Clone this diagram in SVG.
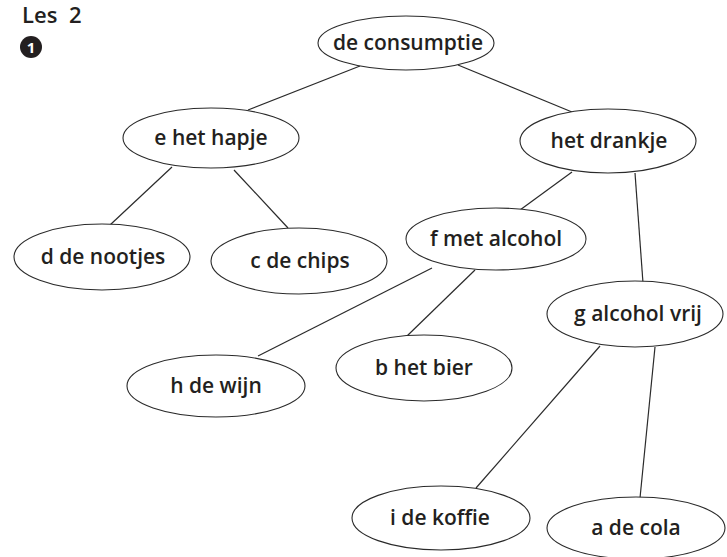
<svg xmlns="http://www.w3.org/2000/svg" width="727" height="557" viewBox="0 0 727 557">
<style>
.n ellipse{fill:#fff;stroke:#2a2a2a;stroke-width:1.1}
.n text{font-family:"Open Sans","DejaVu Sans",sans-serif;font-weight:600;font-size:21px;fill:#231f20;text-anchor:middle}
#connectors line{stroke:#2a2a2a;stroke-width:1.2}
.h{font-family:"Open Sans","DejaVu Sans",sans-serif;font-weight:600;fill:#231f20}
</style>
<rect width="727" height="557" fill="#fff"/>
<text class="h" x="22" y="23" font-size="22" word-spacing="6">Les 2</text>
<g id="badge">
<circle cx="31" cy="47" r="11" fill="#231f20"/>
<text x="31" y="52.5" font-family="Open Sans,DejaVu Sans,sans-serif" font-weight="700" font-size="15" fill="#fff" text-anchor="middle">1</text>
</g>
<g id="connectors">
<line x1="360" y1="66" x2="248" y2="110"/>
<line x1="458" y1="65" x2="572" y2="112"/>
<line x1="172" y1="167" x2="110" y2="225"/>
<line x1="234" y1="170" x2="288" y2="228"/>
<line x1="572" y1="172" x2="520" y2="210"/>
<line x1="635" y1="173" x2="643" y2="283"/>
<line x1="432" y1="268" x2="258" y2="356"/>
<line x1="475" y1="270" x2="407" y2="336"/>
<line x1="600" y1="346" x2="476" y2="488"/>
<line x1="655" y1="347" x2="640" y2="498"/>
</g>
<g id="n-consumptie" class="n"><ellipse cx="406" cy="43" rx="88" ry="27"/><text x="408" y="50">de consumptie</text></g>
<g id="n-hapje" class="n"><ellipse cx="211" cy="138" rx="88" ry="30"/><text x="211" y="145">e het hapje</text></g>
<g id="n-drankje" class="n"><ellipse cx="608" cy="141" rx="88" ry="32"/><text x="609" y="148">het drankje</text></g>
<g id="n-nootjes" class="n"><ellipse cx="102" cy="257" rx="88" ry="33"/><text x="103" y="264">d de nootjes</text></g>
<g id="n-chips" class="n"><ellipse cx="299" cy="261" rx="88" ry="33"/><text x="300" y="268">c de chips</text></g>
<g id="n-metalcohol" class="n"><ellipse cx="496" cy="239" rx="90" ry="31"/><text x="496" y="246">f met alcohol</text></g>
<g id="n-alcoholvrij" class="n"><ellipse cx="635" cy="314" rx="88" ry="33"/><text x="638" y="321">g alcohol vrij</text></g>
<g id="n-wijn" class="n"><ellipse cx="216" cy="386" rx="89" ry="31"/><text x="216" y="393">h de wijn</text></g>
<g id="n-bier" class="n"><ellipse cx="424" cy="368" rx="88" ry="33"/><text x="424" y="375">b het bier</text></g>
<g id="n-koffie" class="n"><ellipse cx="441" cy="518" rx="89" ry="32"/><text x="440" y="525">i de koffie</text></g>
<g id="n-cola" class="n"><ellipse cx="636" cy="528" rx="89" ry="31"/><text x="636" y="535">a de cola</text></g>
</svg>
